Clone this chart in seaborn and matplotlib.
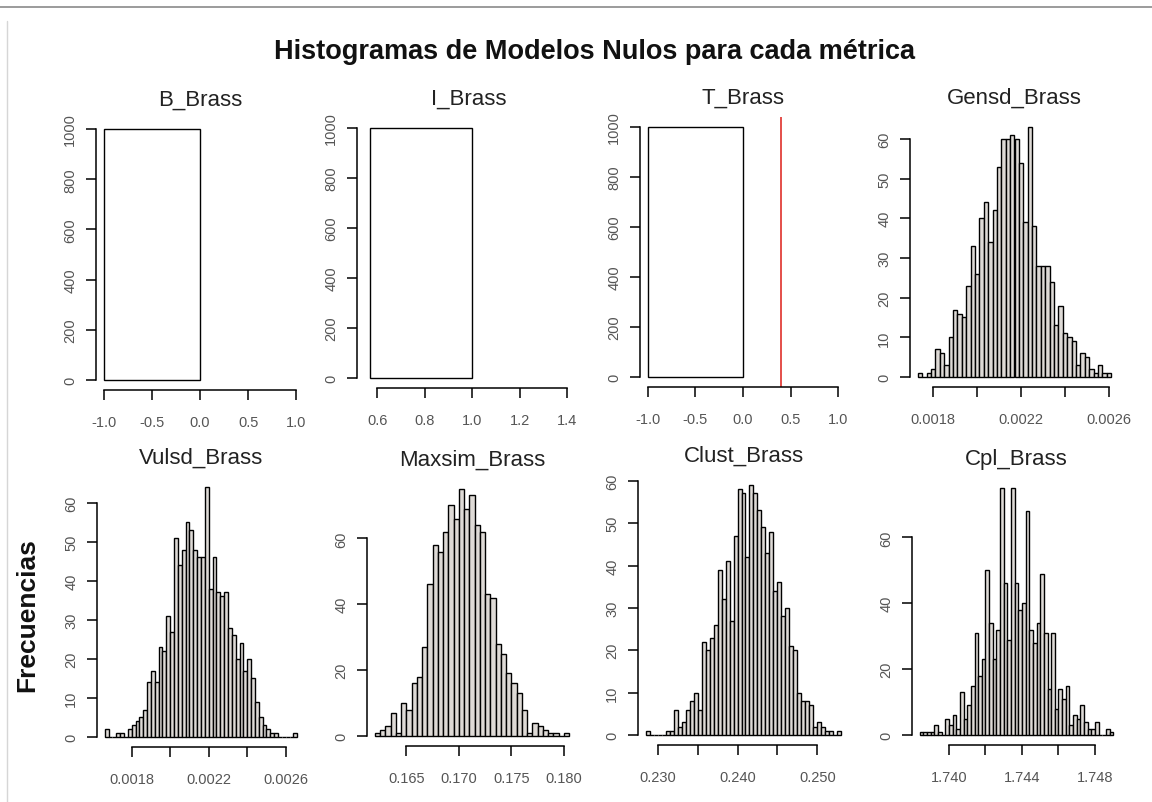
import numpy as np
import pandas as pd
import matplotlib
matplotlib.use("Agg")
import matplotlib.pyplot as plt
from matplotlib.lines import Line2D
import seaborn as sns

# ---------------- data ----------------
main_title = "Histogramas de Modelos Nulos para cada métrica"
y_label = "Frecuencias"

titles = ["B_Brass", "I_Brass", "T_Brass", "Gensd_Brass",
          "Vulsd_Brass", "Maxsim_Brass", "Clust_Brass", "Cpl_Brass"]

# single-bar panels: bin edges and counts
b_edges = [-1.0, 0.0]
b_counts = [1000]
i_edges = [0.57, 1.0]
i_counts = [1000]
t_edges = [-1.0, 0.0]
t_counts = [1000]
t_observed = 0.4   # red reference line

# multi-bin panels: first edge, bin width, counts
gensd_start, gensd_width = 0.00173, 0.00002
gensd_counts = [1, 0, 1, 2, 7, 6, 3, 10, 17, 16, 15, 23, 33, 26, 40, 44, 34, 42, 53, 60,
                60, 61, 60, 54, 39, 63, 38, 28, 28, 28, 24, 13, 18, 11, 10, 9, 3, 6, 5, 2,
                1, 3, 1, 1]

vulsd_start, vulsd_width = 0.00166, 0.00002
vulsd_counts = [2, 0, 0, 1, 1, 0, 2, 3, 4, 5, 7, 14, 17, 14, 23, 22, 31, 27, 51, 44,
                48, 55, 53, 48, 46, 46, 64, 38, 46, 37, 36, 37, 28, 26, 20, 24, 17, 20, 15, 9,
                5, 3, 2, 1, 1, 0, 0, 0, 0, 1]

maxsim_start, maxsim_width = 0.162, 0.0005
maxsim_counts = [1, 2, 3, 7, 1, 10, 8, 16, 18, 27, 46, 58, 56, 62, 70, 66, 75, 69, 73, 64,
                 62, 43, 42, 28, 25, 19, 16, 13, 8, 1, 4, 3, 2, 1, 1, 0, 1]

clust_start, clust_width = 0.2285, 0.0005
clust_counts = [1, 0, 0, 0, 0, 1, 1, 6, 2, 3, 6, 8, 10, 6, 22, 20, 23, 26, 39, 32,
                41, 27, 47, 58, 57, 42, 59, 57, 53, 49, 43, 48, 34, 36, 28, 30, 21, 20, 10, 8,
                8, 7, 2, 3, 2, 1, 1, 0, 1]

cpl_start, cpl_width = 1.7384, 0.0002
cpl_counts = [1, 1, 1, 1, 3, 1, 0, 5, 3, 6, 2, 13, 5, 9, 15, 31, 18, 23, 50, 34,
              23, 32, 75, 46, 29, 75, 46, 38, 40, 68, 32, 28, 34, 49, 31, 14, 31, 8, 14, 11,
              15, 3, 6, 5, 9, 4, 2, 2, 4, 0, 0, 2, 1]

# tick values and labels
tick_b_x = [-1.0, -0.5, 0.0, 0.5, 1.0]
lab_b_x = ["-1.0", "-0.5", "0.0", "0.5", "1.0"]
tick_i_x = [0.6, 0.8, 1.0, 1.2, 1.4]
lab_i_x = ["0.6", "0.8", "1.0", "1.2", "1.4"]
tick_big_y = [0, 200, 400, 600, 800, 1000]
tick_sd_x = [0.0018, 0.0020, 0.0022, 0.0024, 0.0026]
lab_sd_x = ["0.0018", "", "0.0022", "", "0.0026"]
tick_max_x = [0.165, 0.170, 0.175, 0.180]
lab_max_x = ["0.165", "0.170", "0.175", "0.180"]
tick_cl_x = [0.230, 0.235, 0.240, 0.245, 0.250]
lab_cl_x = ["0.230", "", "0.240", "", "0.250"]
tick_cpl_x = [1.740, 1.742, 1.744, 1.746, 1.748]
lab_cpl_x = ["1.740", "", "1.744", "", "1.748"]
tick_10_y = [0, 10, 20, 30, 40, 50, 60]
tick_20_y = [0, 20, 40, 60]

# ---------------- style ----------------
sns.set_style("white")
plt.rcParams["font.family"] = ["Liberation Sans", "DejaVu Sans"]

W, H = 1152, 803
fig = plt.figure(figsize=(W / 100, H / 100), dpi=100)
fig.patch.set_facecolor("white")


def rect(l, r, t, b):
    return [l / W, 1 - b / H, (r - l) / W, (b - t) / H]


def edges_from(start, width, counts):
    return list(start + width * np.arange(len(counts) + 1))


panels = [
    dict(title=titles[0], edges=b_edges, counts=b_counts, xlim=(-1.0, 1.0),
         xt=tick_b_x, xl=lab_b_x, yt=tick_big_y, box=(96, 304, 120, 391)),
    dict(title=titles[1], edges=i_edges, counts=i_counts, xlim=(0.55, 1.42),
         xt=tick_i_x, xl=lab_i_x, yt=tick_big_y, box=(357, 580, 119, 389)),
    dict(title=titles[2], edges=t_edges, counts=t_counts, xlim=(-1.0, 1.0),
         xt=tick_b_x, xl=lab_b_x, yt=tick_big_y, box=(640, 846, 118, 388), vline=t_observed),
    dict(title=titles[3], edges=edges_from(gensd_start, gensd_width, gensd_counts),
         counts=gensd_counts, xt=tick_sd_x, xl=lab_sd_x, yt=tick_10_y, box=(910, 1119, 118, 388)),
    dict(title=titles[4], edges=edges_from(vulsd_start, vulsd_width, vulsd_counts),
         counts=vulsd_counts, xt=tick_sd_x, xl=lab_sd_x, yt=tick_10_y, box=(97, 305, 478, 748)),
    dict(title=titles[5], edges=edges_from(maxsim_start, maxsim_width, maxsim_counts),
         counts=maxsim_counts, xt=tick_max_x, xl=lab_max_x, yt=tick_20_y, box=(367, 577, 480, 747)),
    dict(title=titles[6], edges=edges_from(clust_start, clust_width, clust_counts),
         counts=clust_counts, xt=tick_cl_x, xl=lab_cl_x, yt=tick_10_y, box=(638, 849, 476, 746)),
    dict(title=titles[7], edges=edges_from(cpl_start, cpl_width, cpl_counts),
         counts=cpl_counts, xt=tick_cpl_x, xl=lab_cpl_x, yt=tick_20_y, box=(912, 1121, 479, 746)),
]

for p in panels:
    ax = fig.add_axes(rect(*p["box"]))
    edges = [float(e) for e in p["edges"]]
    counts = [float(c) for c in p["counts"]]
    centers = [(a + b) / 2 for a, b in zip(edges[:-1], edges[1:])]
    df = pd.DataFrame({"value": centers, "count": counts})
    fill = "white" if len(counts) == 1 else "#dedad6"
    sns.histplot(data=df, x="value", weights="count", bins=edges, stat="count",
                 color=fill, edgecolor="black", linewidth=1.0, alpha=1.0, ax=ax)
    # R-style 4 % padding around the data range
    x0, x1 = p.get("xlim", (edges[0], edges[-1]))
    dx = (x1 - x0) * 0.04
    ax.set_xlim(x0 - dx, x1 + dx)
    ymax = max(counts)
    ax.set_ylim(-0.04 * ymax, ymax * 1.04)
    if "vline" in p:
        ax.axvline(p["vline"], color="#e2403c", lw=1.3)
    ax.set_xlabel("")
    ax.set_ylabel("")
    ax.set_xticks(p["xt"], p["xl"])
    ax.set_yticks(p["yt"], [str(v) for v in p["yt"]])
    for s in ["top", "right"]:
        ax.spines[s].set_visible(False)
    for s in ["left", "bottom"]:
        ax.spines[s].set_color("black")
        ax.spines[s].set_linewidth(1.1)
    ax.spines["bottom"].set_bounds(p["xt"][0], p["xt"][-1])
    ax.spines["left"].set_bounds(p["yt"][0], p["yt"][-1])
    ax.tick_params(axis="both", which="major", direction="out", length=7.5, width=1.1,
                   color="black", labelsize=10.5, labelcolor="#555555",
                   bottom=True, left=True)
    ax.tick_params(axis="x", pad=10.5)
    ax.tick_params(axis="y", pad=6)
    for lab in ax.get_yticklabels():
        lab.set_rotation(90)
        lab.set_va("center")
    ax.set_title(p["title"], fontsize=16, color="#222222", pad=10)
    ax.set_facecolor("white")
    ax.grid(False)

fig.text(594 / W, 1 - 52 / H, main_title, ha="center", va="center",
         fontsize=19.5, fontweight="bold", color="#111111")
fig.text(27 / W, 1 - 615 / H, y_label, ha="center", va="center", rotation=90,
         fontsize=19, fontweight="bold", color="#111111")

# scan edge lines
fig.add_artist(Line2D([0, 1], [1 - 8 / H, 1 - 8 / H], transform=fig.transFigure,
                      color="#8a8a8a", lw=1.2))
fig.add_artist(Line2D([7 / W, 7 / W], [1 - 22 / H, 0], transform=fig.transFigure,
                      color="#d6d6d6", lw=1.0))

fig.savefig("out.png", dpi=100, facecolor="white")
